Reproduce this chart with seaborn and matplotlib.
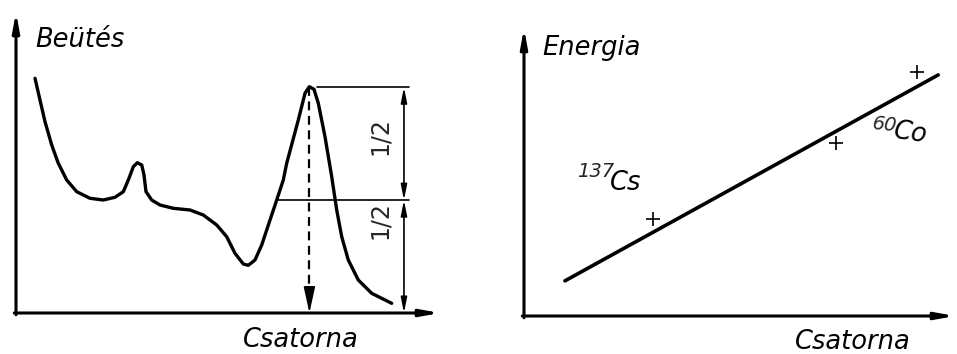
import matplotlib
matplotlib.use("Agg")
import matplotlib.pyplot as plt
import seaborn as sns
import pandas as pd

sns.set_style("white")
plt.rcParams['font.family'] = ['DejaVu Sans']

# ---- data: left panel (spectrum), channel vs counts (arbitrary units 0-100)
spec_channel = [4.48, 5.66, 6.84, 8.42, 9.98, 11.96, 14.32, 17.45, 20.59, 23.35,
                25.31, 26.49, 27.67, 28.61, 29.65, 30.19, 30.66, 32.00, 33.96, 37.10,
                41.04, 44.17, 47.34, 49.69, 51.65, 53.61, 54.79, 56.37, 57.95, 59.91,
                61.49, 63.04, 63.84, 66.58, 68.16, 69.17, 70.28, 71.30, 72.88, 74.46,
                75.64, 76.82, 78.37, 80.73, 83.89, 88.61]
spec_counts = [77.97, 70.76, 63.56, 55.81, 49.73, 44.19, 40.30, 38.11, 37.54, 38.44,
               40.30, 44.19, 48.60, 49.93, 49.17, 45.85, 40.30, 37.54, 35.88, 34.78,
               34.22, 32.56, 29.24, 25.35, 19.83, 16.28, 15.85, 17.61, 22.59, 30.90,
               37.54, 44.19, 49.73, 64.12, 72.99, 75.18, 74.32, 69.67, 58.57, 45.28,
               34.22, 25.35, 17.61, 10.96, 6.54, 3.22]
peak_channel = 69.2
peak_counts = 75.0
half_counts = 37.5
dim_x = 91.5

# ---- data: right panel (calibration)
cal_line_channel = [9.5, 96.1]
cal_line_energy = [12.2, 83.7]
cal_pts_channel = [29.9, 72.4, 91.2]
cal_pts_energy = [33.7, 60.1, 84.7]

fig = plt.figure(figsize=(9.57, 3.54), dpi=100)
fig.patch.set_facecolor('white')

axL = fig.add_axes([16/957, 41/354, 424/957, 301/354])
axR = fig.add_axes([524/957, 38/354, 431/957, 288/354])

txt = dict(fontstyle='italic', fontsize=18.5, color='black')

for ax in (axL, axR):
    ax.set_xlim(0, 100)
    ax.set_ylim(0, 100)
    for s in ax.spines.values():
        s.set_visible(False)
    ax.set_xticks([])
    ax.set_yticks([])
    ax.set_facecolor('none')
    # axis arrows
    ax.annotate('', xy=(1.0, 0), xytext=(-0.004, 0), xycoords='axes fraction',
                arrowprops=dict(arrowstyle='-|>,head_length=1.1,head_width=0.2',
                                lw=2.2, color='black', shrinkA=0, shrinkB=0))
    ax.annotate('', xy=(0, 1.0), xytext=(0, -0.006), xycoords='axes fraction',
                arrowprops=dict(arrowstyle='-|>,head_length=1.1,head_width=0.2',
                                lw=2.2, color='black', shrinkA=0, shrinkB=0))

# ---- left panel
dfL = pd.DataFrame({'Csatorna': spec_channel, 'Beütés': spec_counts})
sns.lineplot(data=dfL, x='Csatorna', y='Beütés', sort=False, ax=axL,
             color='black', lw=2.4, clip_on=False)
for l in axL.lines:
    l.set_solid_joinstyle('round')
    l.set_solid_capstyle('round')
axL.set_xlabel('')
axL.set_ylabel('')

# half-height and peak horizontal lines
axL.plot([61.6, 92.8], [half_counts, half_counts], color='black', lw=1.2)
axL.plot([71.0, 92.8], [peak_counts, peak_counts], color='black', lw=1.2)
# dimension arrows
dim_style = dict(arrowstyle='<|-|>,head_length=0.9,head_width=0.18', lw=1.2,
                 color='black', shrinkA=0, shrinkB=0)
axL.annotate('', xy=(dim_x, peak_counts), xytext=(dim_x, half_counts), arrowprops=dim_style)
axL.annotate('', xy=(dim_x, half_counts), xytext=(dim_x, 0), arrowprops=dim_style)
# dashed arrow from the peak down to the axis
axL.plot([peak_channel, peak_channel], [peak_counts, 6], color='black', lw=1.6,
         ls=(0, (4, 2.5)))
axL.annotate('', xy=(peak_channel, 0), xytext=(peak_channel, 8.5),
             arrowprops=dict(arrowstyle='-|>,head_length=1.6,head_width=0.35', lw=1.2,
                             color='black', shrinkA=0, shrinkB=0))

axL.text(85.8, 58.8, '1/2', rotation=90, ha='center', va='center', fontsize=17)
axL.text(85.8, 30.9, '1/2', rotation=90, ha='center', va='center', fontsize=17)
axL.text(4.5, 88.4, 'Beütés', ha='left', va='baseline', **txt)
axL.text(53.5, -11.3, 'Csatorna', ha='left', va='baseline', **txt)

# ---- right panel
dfR = pd.DataFrame({'Csatorna': cal_line_channel, 'Energia': cal_line_energy})
sns.lineplot(data=dfR, x='Csatorna', y='Energia', ax=axR, color='black', lw=2.6)
dfP = pd.DataFrame({'Csatorna': cal_pts_channel, 'Energia': cal_pts_energy})
sns.scatterplot(data=dfP, x='Csatorna', y='Energia', ax=axR, marker='+', s=100,
                color='black', linewidth=1.2, clip_on=False)
axR.set_xlabel('')
axR.set_ylabel('')

axR.text(4.2, 90.6, 'Energia', ha='left', va='baseline', **txt)
axR.text(62.9, -11.5, 'Csatorna', ha='left', va='baseline', **txt)
axR.text(12.3, 48.3, '137', ha='left', va='baseline', fontstyle='italic', fontsize=14)
axR.text(19.9, 43.75, 'Cs', ha='left', va='baseline', **txt)
axR.text(80.7, 63.9, '60', ha='left', va='baseline', fontstyle='italic', fontsize=14,
         rotation=-6)
axR.text(85.4, 60.1, 'Co', ha='left', va='baseline', rotation=-8, **txt)

fig.savefig('out.png', dpi=100, facecolor='white')
